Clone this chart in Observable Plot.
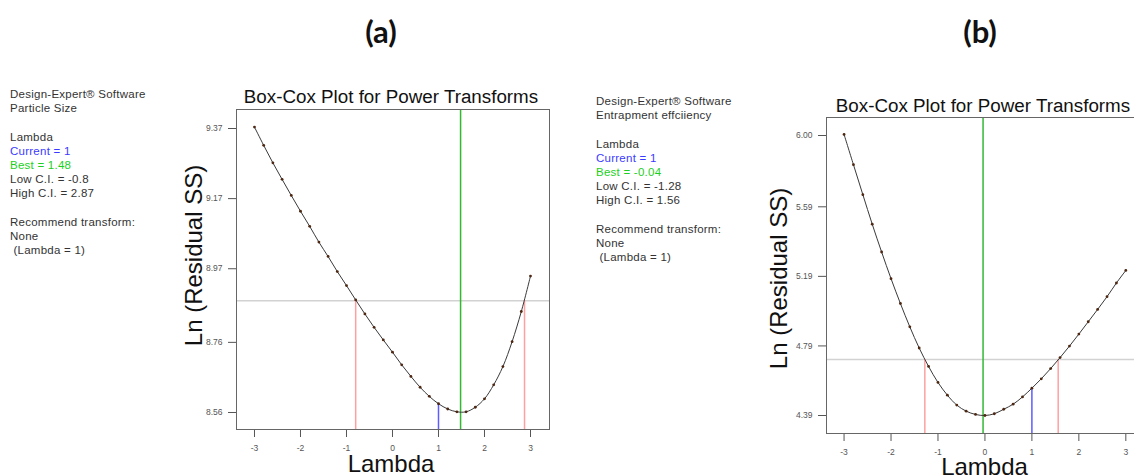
<!DOCTYPE html>
<html>
<head>
<meta charset="utf-8">
<script src="https://cdn.jsdelivr.net/npm/d3@7"></script>
<script src="https://cdn.jsdelivr.net/npm/@observablehq/plot@0.6"></script>
<style>
html, body { margin: 0; padding: 0; background: #fff; }
#page { position: relative; width: 1134px; height: 475px; overflow: hidden; font-family: "Liberation Sans", Arial, sans-serif; }
.abs { position: absolute; white-space: nowrap; }
.panel { font-family: Lato, "Open Sans", sans-serif; font-weight: 700; font-size: 31px; line-height: 31px; color: #111; width: 80px; text-align: center; }
.info { font-size: 11.5px; line-height: 14.2px; color: #333; letter-spacing: 0.25px; }
.title { font-size: 18.8px; line-height: 20px; color: #111; text-align: center; width: 400px; }
.chart { position: absolute; }
</style>
</head>
<body>
<div id="page"></div>
<script>
// ---------- data ----------
const lambdas = [-3, -2.8, -2.6, -2.4, -2.2, -2, -1.8, -1.6, -1.4, -1.2, -1, -0.8, -0.6, -0.4, -0.2, 0,
                 0.2, 0.4, 0.6, 0.8, 1, 1.2, 1.4, 1.6, 1.8, 2, 2.2, 2.4, 2.6, 2.8, 3];
const lnRssA = [9.374, 9.322, 9.272, 9.225, 9.179, 9.134, 9.091, 9.046, 9.005, 8.962, 8.922, 8.881, 8.841, 8.803, 8.767, 8.732,
                8.696, 8.663, 8.632, 8.606, 8.585, 8.570, 8.562, 8.562, 8.575, 8.599, 8.639, 8.691, 8.762, 8.848, 8.949];
const lnRssB = [6.006, 5.832, 5.660, 5.490, 5.330, 5.177, 5.034, 4.900, 4.778, 4.672, 4.580, 4.507, 4.450, 4.415, 4.396, 4.390,
                4.400, 4.426, 4.455, 4.497, 4.547, 4.601, 4.660, 4.723, 4.789, 4.858, 4.929, 5.000, 5.073, 5.152, 5.224];
const xTicks = [-3, -2, -1, 0, 1, 2, 3];
const yTicksA = [9.37, 9.17, 8.97, 8.76, 8.56];
const yTicksB = [6.00, 5.59, 5.19, 4.79, 4.39];
const responses = ["Particle Size", "Entrapment effciiency"];
const currentLambda = [1, 1];
const bestLambda = [1.48, -0.04];
const lowCI = [-0.8, -1.28];
const highCI = [2.87, 1.56];
const ciLevel = [8.879, 4.712];
const panelLabels = ["(a)", "(b)"];
const chartTitle = "Box-Cox Plot for Power Transforms";
const xLabel = "Lambda";
const yLabel = "Ln (Residual SS)";

// ---------- layout ----------
const page = d3.select("#page");

function addText(cls, left, top, html) {
  return page.append("div").attr("class", "abs " + cls).style("left", left + "px").style("top", top + "px").html(html);
}

addText("panel", 341, 16, panelLabels[0]);
addText("panel", 940, 16, panelLabels[1]);

function infoHtml(k) {
  return [
    "Design-Expert® Software",
    responses[k],
    "&nbsp;",
    "Lambda",
    `<span style="color:#3b3bff">Current = ${currentLambda[k]}</span>`,
    `<span style="color:#1ccf1c">Best = ${bestLambda[k]}</span>`,
    `Low C.I. = ${lowCI[k]}`,
    `High C.I. = ${highCI[k]}`,
    "&nbsp;",
    "Recommend transform:",
    "None",
    "&nbsp;(Lambda = 1)"
  ].join("<br>");
}
addText("info", 10, 87, infoHtml(0));
addText("info", 596, 94, infoHtml(1));

addText("title", 391 - 200, 87, chartTitle);
addText("title", 983 - 200, 95.5, chartTitle);

function boxCox(k, values, yTicks, cfg) {
  const data = lambdas.map((l, i) => ({lambda: l, v: values[i]}));
  const curV = values[lambdas.indexOf(currentLambda[k])];
  const [y0, y1] = cfg.yDomain;
  const [x0] = cfg.xDomain;
  const frameMarks = cfg.fullFrame
    ? [Plot.frame({stroke: "#666", strokeWidth: 1})]
    : [Plot.ruleY([y1], {stroke: "#666", strokeWidth: 1}),
       Plot.ruleY([y0], {stroke: "#666", strokeWidth: 1}),
       Plot.ruleX([x0], {stroke: "#666", strokeWidth: 1})];
  return Plot.plot({
    width: cfg.width,
    height: 395,
    marginLeft: 61,
    marginRight: cfg.mR,
    marginTop: cfg.mT,
    marginBottom: cfg.mB,
    style: {fontFamily: "Liberation Sans, Arial, sans-serif", fontSize: "8.5px", color: "#555", background: "transparent"},
    x: {domain: cfg.xDomain, ticks: xTicks, tickSize: 8, tickPadding: 7, tickFormat: d => String(d), label: null},
    y: {domain: cfg.yDomain, ticks: yTicks, tickSize: 8, tickPadding: 6, tickFormat: d => d.toFixed(2), label: null},
    marks: [
      Plot.ruleY([ciLevel[k]], {stroke: "#d2d2d2", strokeWidth: 1.5}),
      Plot.ruleX([lowCI[k], highCI[k]], {y1: y0, y2: ciLevel[k], stroke: "#ffa0a0", strokeWidth: 1.5}),
      Plot.ruleX([currentLambda[k]], {y1: y0, y2: curV, stroke: "#5c5cff", strokeWidth: 1.5}),
      Plot.ruleX([bestLambda[k]], {stroke: "#33b833", strokeWidth: 1.5}),
      Plot.line(data, {x: "lambda", y: "v", curve: "catmull-rom", stroke: "#3a3a3a", strokeWidth: 1}),
      Plot.dot(data, {x: "lambda", y: "v", r: 1.4, fill: "#4d2712", stroke: "none"}),
      ...frameMarks,
      Plot.text([xLabel], {text: d => d, frameAnchor: "bottom", textAnchor: "middle", dy: cfg.xlDy, dx: cfg.xlDx, lineAnchor: "bottom", fontSize: 24, fill: "#111"}),
      Plot.text([yLabel], {text: d => d, frameAnchor: "left", textAnchor: "middle", rotate: -90, dx: cfg.ylDx, dy: cfg.ylDy, fontSize: 24, fill: "#111"})
    ]
  });
}

const chartA = boxCox(0, lnRssA, yTicksA, {
  width: 385, mR: 11, mT: 29, mB: 46,
  xDomain: [-3.391, 3.413], yDomain: [8.5115, 9.4242],
  fullFrame: true, xlDx: -2, xlDy: 42, ylDx: -42, ylDy: -14
});
const chartB = boxCox(1, lnRssB, yTicksB, {
  width: 369, mR: 0, mT: 37, mB: 42,
  xDomain: [-3.374, 3.185], yDomain: [4.2865, 6.1035],
  fullFrame: false, xlDx: 4, xlDy: 41, ylDx: -47, ylDy: 3
});

const a = page.append("div").attr("class", "chart").style("left", "175px").style("top", "80px");
a.node().appendChild(chartA);
const b = page.append("div").attr("class", "chart").style("left", "765px").style("top", "80px");
b.node().appendChild(chartB);
</script>
</body>
</html>
